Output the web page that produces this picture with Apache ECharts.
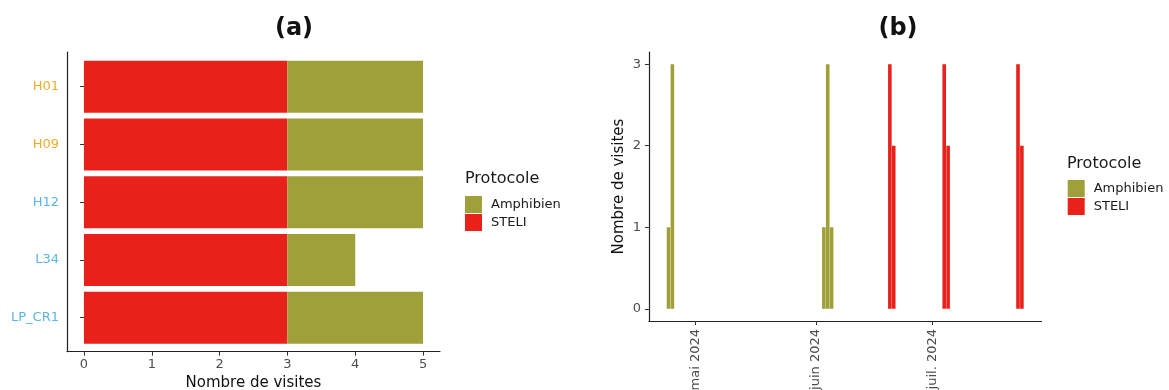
<!DOCTYPE html>
<html><head><meta charset="utf-8">
<script src="https://cdn.jsdelivr.net/npm/echarts@6/dist/echarts.min.js"></script>
<style>html,body{margin:0;padding:0;background:#fff}#c{width:1169px;height:390px}</style>
</head><body><div id="c"></div>
<script>
// ---- data ----
const sites = ['H01', 'H09', 'H12', 'L34', 'LP_CR1'];
const siteGroup = ['o', 'o', 'b', 'b', 'b'];
const steliBySite = [3, 3, 3, 3, 3];
const amphiBySite = [2, 2, 2, 1, 2];
const amphiDates = ['2024-04-24', '2024-04-25', '2024-06-03', '2024-06-04', '2024-06-05'];
const amphiCounts = [1, 3, 1, 3, 1];
const steliDates = ['2024-06-20', '2024-06-21', '2024-07-04', '2024-07-05', '2024-07-23', '2024-07-24'];
const steliCounts = [3, 2, 3, 2, 3, 2];
const xTicksA = [0, 1, 2, 3, 4, 5];
const yTicksB = [0, 1, 2, 3];
const monthTicksB = ['2024-05-01', '2024-06-01', '2024-07-01'];
const monthLabels = ['janv.', 'févr.', 'mars', 'avr.', 'mai', 'juin', 'juil.', 'août', 'sept.', 'oct.', 'nov.', 'déc.'];
const protocols = ['Amphibien', 'STELI'];
const titles = ['(a)', '(b)'];
const axisTitle = 'Nombre de visites';
const legendTitle = 'Protocole';

// ---- style ----
const RED = '#E8221A', OLIVE = '#A0A03B';
const FONT = 'DejaVu Sans';
const DAY = 86400000;
const toTs = s => new Date(s + 'T00:00:00Z').getTime();
const tMin = Date.UTC(2024, 3, 19) - 0.05 * DAY;
const tMax = Date.UTC(2024, 6, 29) + 0.05 * DAY;
const axisLineOn = { show: true, onZero: false, lineStyle: { color: '#222', width: 1.2 } };
const tickBase = { show: true, length: 4, lineStyle: { color: '#333', width: 1 } };
const lblStyle = { color: '#4D4D4D', fontSize: 13, fontFamily: FONT };

const chart = echarts.init(document.getElementById('c'));
chart.setOption({
  animation: false,
  backgroundColor: '#fff',
  title: [
    { text: titles[0], left: 289, top: 12, textAlign: 'center', textStyle: { fontSize: 24, fontWeight: 'bold', fontFamily: FONT, color: '#111' } },
    { text: titles[1], left: 893, top: 12, textAlign: 'center', textStyle: { fontSize: 24, fontWeight: 'bold', fontFamily: FONT, color: '#111' } }
  ],
  grid: [
    { left: 67, width: 373, top: 57.8, height: 288.75, outerBoundsMode: 'none', containLabel: false },
    { left: 67, width: 373, top: 52, height: 299.7, outerBoundsMode: 'none', containLabel: false },
    { left: 648.9, width: 392.6, top: 52, height: 269, outerBoundsMode: 'none', containLabel: false }
  ],
  xAxis: [
    { gridIndex: 0, type: 'value', min: -0.25, max: 5.25,
      axisLine: { show: false }, axisTick: { show: false }, axisLabel: { show: false }, splitLine: { show: false } },
    { gridIndex: 1, type: 'value', min: -0.25, max: 5.25,
      axisLine: axisLineOn, splitLine: { show: false },
      axisTick: Object.assign({ customValues: xTicksA }, tickBase),
      axisLabel: Object.assign({ margin: 6, customValues: xTicksA }, lblStyle),
      name: axisTitle, nameLocation: 'middle', nameGap: 22,
      nameTextStyle: { fontSize: 15, color: '#111', fontFamily: FONT } },
    { gridIndex: 2, type: 'value', min: tMin, max: tMax,
      axisLine: axisLineOn, splitLine: { show: false },
      axisTick: Object.assign({ customValues: monthTicksB.map(toTs) }, tickBase),
      axisLabel: Object.assign({ margin: 8, rotate: 90, hideOverlap: false, customValues: monthTicksB.map(toTs),
        formatter: v => { const d = new Date(v); return monthLabels[d.getUTCMonth()] + ' ' + d.getUTCFullYear(); } }, lblStyle) }
  ],
  yAxis: [
    { gridIndex: 0, type: 'category', data: sites, inverse: true,
      axisLine: { show: false }, axisTick: Object.assign({ alignWithLabel: true }, tickBase),
      axisLabel: { margin: 8, fontSize: 13, fontFamily: FONT,
        formatter: (v, i) => '{' + siteGroup[i] + '|' + v + '}',
        rich: { o: { color: '#EFAD2C', fontSize: 13, fontFamily: FONT }, b: { color: '#5BB6E8', fontSize: 13, fontFamily: FONT } } } },
    { gridIndex: 1, type: 'value', min: 0, max: 1,
      axisLine: axisLineOn, axisTick: { show: false }, axisLabel: { show: false }, splitLine: { show: false } },
    { gridIndex: 2, type: 'value', min: -0.15, max: 3.15,
      axisLine: axisLineOn, splitLine: { show: false },
      axisTick: Object.assign({ customValues: yTicksB }, tickBase),
      axisLabel: Object.assign({ margin: 8, customValues: yTicksB }, lblStyle),
      name: axisTitle, nameLocation: 'middle', nameGap: 22,
      nameTextStyle: { fontSize: 15, color: '#111', fontFamily: FONT } }
  ],
  legend: [
    { data: protocols, orient: 'vertical', left: 465, top: 196, padding: 0, itemWidth: 17, itemHeight: 17, itemGap: 1,
      icon: 'rect', selectedMode: false, textStyle: { fontSize: 13, color: '#1a1a1a', fontFamily: FONT, padding: [0, 0, 0, 4] } },
    { data: protocols, orient: 'vertical', left: 1067.7, top: 180, padding: 0, itemWidth: 17, itemHeight: 17, itemGap: 1,
      icon: 'rect', selectedMode: false, textStyle: { fontSize: 13, color: '#1a1a1a', fontFamily: FONT, padding: [0, 0, 0, 4] } }
  ],
  graphic: [
    { type: 'text', left: 465, top: 171, style: { text: legendTitle, fontSize: 16, fill: '#1a1a1a', fontFamily: FONT } },
    { type: 'text', left: 1067, top: 156, style: { text: legendTitle, fontSize: 16, fill: '#1a1a1a', fontFamily: FONT } }
  ],
  series: [
    { name: 'STELI', type: 'bar', xAxisIndex: 0, yAxisIndex: 0, stack: 'a', barWidth: '90%',
      itemStyle: { color: RED }, data: steliBySite },
    { name: 'Amphibien', type: 'bar', xAxisIndex: 0, yAxisIndex: 0, stack: 'a', barWidth: '90%',
      itemStyle: { color: OLIVE }, data: amphiBySite },
    { name: 'Amphibien', type: 'bar', xAxisIndex: 2, yAxisIndex: 2, barWidth: 3.6, barGap: '-100%',
      itemStyle: { color: OLIVE }, data: amphiDates.map((d, i) => [toTs(d), amphiCounts[i]]) },
    { name: 'STELI', type: 'bar', xAxisIndex: 2, yAxisIndex: 2, barWidth: 3.6, barGap: '-100%',
      itemStyle: { color: RED }, data: steliDates.map((d, i) => [toTs(d), steliCounts[i]]) }
  ]
});
</script>
</body></html>
